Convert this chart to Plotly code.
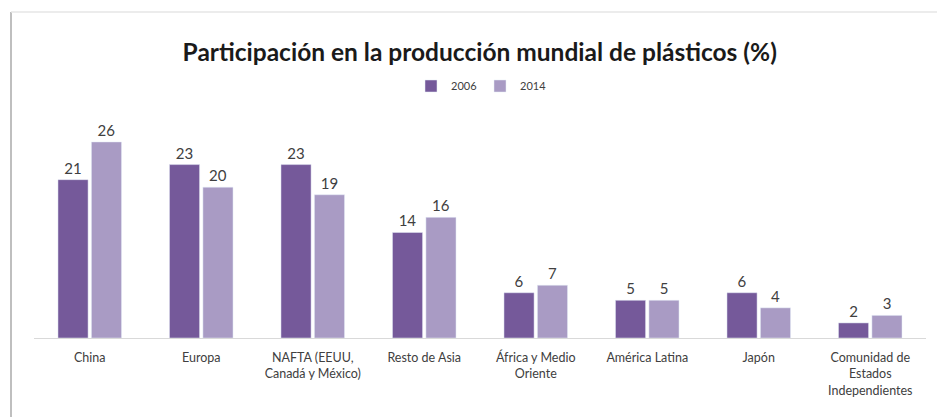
import plotly.graph_objects as go

categories = ["China", "Europa", "NAFTA (EEUU,<br>Canadá y México)", "Resto de Asia",
              "África y Medio<br>Oriente", "América Latina", "Japón",
              "Comunidad de<br>Estados<br>Independientes"]
v2006 = [21, 23, 23, 14, 6, 5, 6, 2]
v2014 = [26, 20, 19, 16, 7, 5, 4, 3]

W, H = 937, 417
L, R, T, B = 34, 11, 120, 79
pw, ph = W - L - R, H - T - B

def px(x):
    return (x - L) / pw

def py(y):
    return (H - B - y) / ph

fig = go.Figure()
fig.add_bar(x=categories, y=v2006, name="2006", marker_color="#75599a",
            text=v2006, textposition="outside",
            textfont=dict(size=15, color="#404040", family="Lato"), cliponaxis=False)
fig.add_bar(x=categories, y=v2014, name="2014", marker_color="#a99bc4",
            text=v2014, textposition="outside",
            textfont=dict(size=15, color="#404040", family="Lato"), cliponaxis=False)

fig.update_layout(
    width=W, height=H,
    margin=dict(l=L, r=R, t=T, b=B),
    paper_bgcolor="white", plot_bgcolor="white",
    barmode="group", bargap=0.4, bargroupgap=0.1,
    font=dict(family="Lato", color="#595959"),
    title=dict(text="<b>Participación en la producción mundial de plásticos (%)</b>",
               x=0.512, xanchor="center", y=1 - 52 / H, yanchor="middle",
               font=dict(size=24.5, color="#1a1a1a", family="Lato")),
    legend=dict(orientation="h", x=0.5, xanchor="center", y=py(86), yanchor="middle",
                font=dict(size=11, color="#404040"), itemwidth=30, entrywidth=24,
                bgcolor="rgba(0,0,0,0)", tracegroupgap=0),
    xaxis=dict(showline=True, linecolor="#d9d9d9", linewidth=1, ticks="",
               tickfont=dict(size=12.5, color="#404040"), showgrid=False,
               ticklabelstandoff=8),
    yaxis=dict(range=[0, ph / 7.54], visible=False, showgrid=False),
    showlegend=True,
    shapes=[
        dict(type="line", xref="paper", yref="paper", x0=px(11), x1=px(11),
             y0=py(12), y1=py(417), line=dict(color="#bfbfbf", width=2)),
        dict(type="line", xref="paper", yref="paper", x0=px(11), x1=px(940),
             y0=py(12), y1=py(12), line=dict(color="#e6e6e6", width=1.5)),
    ],
)

fig.write_html("out.html")
